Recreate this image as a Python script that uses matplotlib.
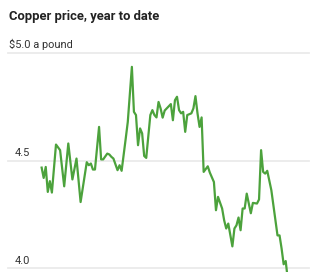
import matplotlib
matplotlib.use("Agg")
from matplotlib import pyplot as plt

# copper price, year to date (trading day index, $ a pound)
days = [0, 1, 2, 3, 4, 5, 7, 9, 11, 13, 15, 17, 19, 22, 23, 24, 25, 26, 28, 29,
        30, 32, 33, 34, 35, 37, 38, 39, 41, 42, 44, 45, 46, 47, 48, 49, 50, 51, 53, 54,
        55, 56, 57, 58, 59, 60, 62, 63, 64, 65, 66, 67, 68, 69, 70, 71, 73, 74, 75, 76,
        77, 78, 79, 81, 82, 84, 85, 86, 88, 89, 90, 91, 93, 94, 95, 96, 97, 98, 99, 100,
        102, 103, 105, 106, 107, 108, 109, 110, 112, 114, 115, 116, 117, 118, 119, 120]
price = [4.468, 4.420, 4.471, 4.355, 4.405, 4.352, 4.575, 4.549, 4.381, 4.580,
         4.413, 4.510, 4.308, 4.493, 4.479, 4.487, 4.459, 4.459, 4.657, 4.506,
         4.506, 4.533, 4.529, 4.518, 4.510, 4.456, 4.479, 4.453, 4.603, 4.680,
         4.936, 4.727, 4.712, 4.572, 4.650, 4.627, 4.522, 4.513, 4.712, 4.735,
         4.712, 4.701, 4.773, 4.743, 4.700, 4.733, 4.753, 4.763, 4.688, 4.781,
         4.797, 4.735, 4.720, 4.727, 4.634, 4.712, 4.720, 4.743, 4.800, 4.720,
         4.657, 4.701, 4.448, 4.474, 4.445, 4.401, 4.270, 4.332, 4.278, 4.223,
         4.185, 4.208, 4.102, 4.185, 4.200, 4.236, 4.177, 4.278, 4.278, 4.347,
         4.256, 4.304, 4.301, 4.320, 4.549, 4.448, 4.440, 4.453, 4.363, 4.223,
         4.153, 4.153, 4.092, 4.019, 4.034, 3.950]

ticks = [4.0, 4.5, 5.0]
tick_labels = ['4.0', '4.5', '$5.0 a pound']

fig = plt.figure(figsize=(3.3, 2.72), dpi=100)
ax = fig.add_axes([0, 0, 1, 1])
ax.set_xlim(-20.3, 140.6)
ax.set_ylim(3.983, 5.2465)
ax.axis('off')

# gridlines with labels sitting on top of them
for t, lab in zip(ticks, tick_labels):
    ax.axhline(t, xmin=0.025, xmax=0.936, color='#ebebeb', lw=1.3, zorder=1)
    x = 0.027 if lab.startswith('$') else 0.045
    ax.text(x, t + 0.012, lab, transform=ax.get_yaxis_transform(),
            ha='left', va='bottom', fontsize=7.9, color='#333333', family='Roboto')

ax.plot(days, price, color='#4ca23c', lw=1.6, zorder=3, solid_joinstyle='round')

fig.text(0.026, 0.965, 'Copper price, year to date', ha='left', va='top',
         fontsize=9.4, fontweight='bold', color='#222222', family='Roboto')

fig.savefig('out.png', dpi=100)
